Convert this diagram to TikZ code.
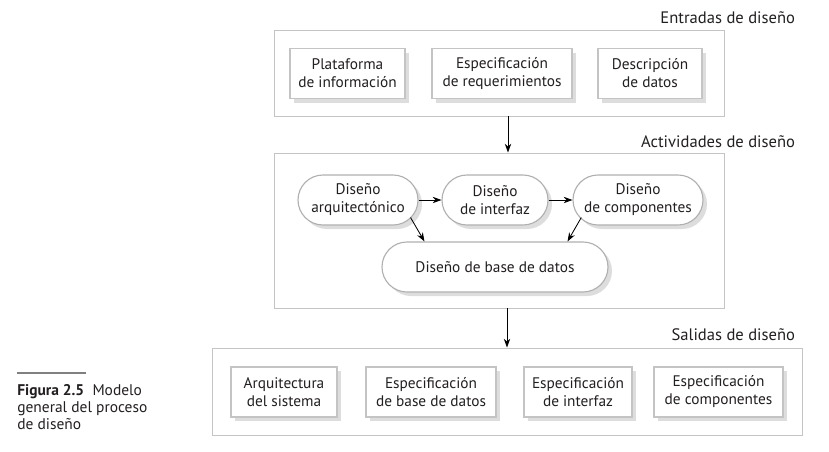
\documentclass[tikz,border=0pt]{standalone}
\usepackage{fontspec}
\setmainfont{PT Sans}
\usetikzlibrary{ shadows,     % For the grey drop shadows
                 arrows.meta, % For the arrow tips
               }
\definecolor{borde}{HTML}{C4C4C4}
\definecolor{sombra}{HTML}{DDDDDD}
\definecolor{tinta}{HTML}{231F20}

\tikzset{
  bloque/.style={draw=borde, line width=0.7pt},
  caja/.style={draw=borde, fill=white, line width=0.8pt, align=center,
               minimum width=#1, minimum height=1.25cm, inner sep=0pt,
               drop shadow={shadow xshift=0.1cm, shadow yshift=-0.1cm,
                            fill=sombra, opacity=1}},
  actividad/.style={caja=#1, draw=borde!90!black, rounded corners=0.625cm},
  titulo/.style={anchor=east, font=\fontsize{11.8}{14}\selectfont},
  flecha/.style={-{Stealth[length=2.2mm, width=1.6mm]}, line width=0.6pt},
}

\begin{document}
\begin{tikzpicture}[text=tinta, font=\fontsize{10.9}{12.8}\selectfont]
  \useasboundingbox (0,0) rectangle (20.725,11.275);

  % entradas
  \node[bloque, minimum width=11.25cm, minimum height=2.15cm] (entradas) at (12.475,9.45) {};
  \node[titulo] (entradas_t) at (20,10.825) {Entradas de diseño};
  \node[caja=2.875cm] (plataforma) at (8.6875,9.4375) {Plataforma\\de información};
  \node[caja=3.5cm] (requerimientos) at (12.55,9.4375) {Especificación\\de requerimientos};
  \node[caja=2.6cm] (descripcion) at (16.25,9.4375) {Descripción\\de datos};

  % actividades
  \node[bloque, minimum width=11.25cm, minimum height=3.875cm] (actividades) at (12.475,5.5125) {};
  \node[titulo] (actividades_t) at (20,7.725) {Actividades de diseño};
  \node[actividad=3cm] (arquitectonico) at (8.95,6.275) {Diseño\\arquitectónico};
  \node[actividad=2.65cm] (interfaz) at (12.375,6.275) {Diseño\\de interfaz};
  \node[actividad=3.25cm] (componentes) at (15.95,6.275) {Diseño\\de componentes};
  \node[actividad=5.65cm] (base) at (12.375,4.6) {Diseño de base de datos};

  % salidas
  \node[bloque, minimum width=14.75cm, minimum height=2.175cm] (salidas) at (12.675,1.4875) {};
  \node[titulo] (salidas_t) at (20,2.9) {Salidas de diseño};
  \node[caja=2.65cm] (arquitectura) at (7.1,1.475) {Arquitectura\\del sistema};
  \node[caja=3.25cm] (esp_base) at (10.775,1.475) {Especificación\\de base de datos};
  \node[caja=2.7cm] (esp_interfaz) at (14.45,1.475) {Especificación\\de interfaz};
  \node[caja=3.225cm] (esp_componentes) at (17.9625,1.475) {Especificación\\de componentes};

  \draw[flecha] ([xshift=0.225cm]entradas.south) -- ([xshift=0.225cm]actividades.north);
  \draw[flecha] (actividades.south -| salidas.north) -- (salidas.north);

  \draw[flecha] (arquitectonico) -- (interfaz);
  \draw[flecha] (interfaz) -- (componentes);
  \draw[flecha] ([xshift=-0.2cm, yshift=0.2cm]arquitectonico.south east) -- ([xshift=1.075cm]base.north west);
  \draw[flecha] ([xshift=0.22cm, yshift=0.2cm]componentes.south west) -- ([xshift=-1.025cm]base.north east);

  % pie de figura
  \draw[gray, line width=1.2pt] (0.425,1.95) -- (2.15,1.95);
  \node[anchor=north west, align=left, inner sep=0pt,
        font=\fontsize{11}{12.2}\selectfont] (pie) at (0.425,1.68)
        {\textbf{Figura 2.5}\ \ Modelo\\general del proceso\\de diseño};
\end{tikzpicture}
\end{document}
